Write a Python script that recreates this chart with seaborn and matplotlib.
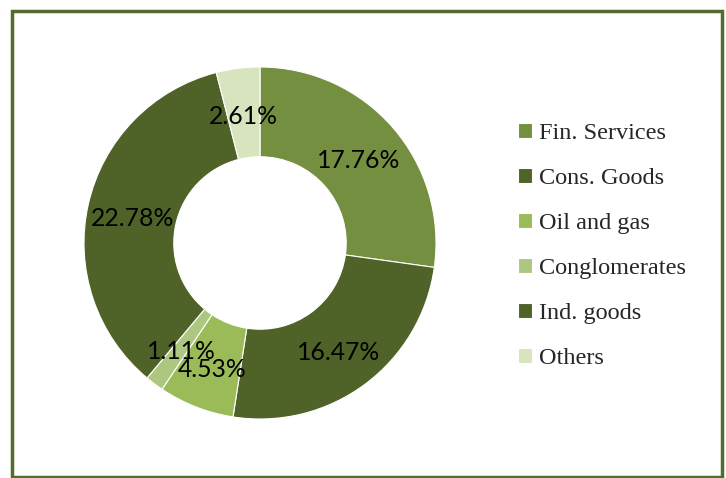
import matplotlib
matplotlib.use("Agg")
import matplotlib.pyplot as plt
import seaborn as sns

categories = ["Fin. Services", "Cons. Goods", "Oil and gas", "Conglomerates", "Ind. goods", "Others"]
values = [17.76, 16.47, 4.53, 1.11, 22.78, 2.61]
colors = ["#748F3F", "#4F6228", "#9BBB59", "#ADC780", "#4F6228", "#D7E4BD"]

sns.set_style("white")
palette = sns.color_palette(colors)

W, H = 726, 478
fig = plt.figure(figsize=(W / 100, H / 100), dpi=100)
fig.patch.set_facecolor("white")
ax = fig.add_axes([0, 0, 1, 1])

cx, cy = 260, 243
R = 176
total = sum(values)

wedges, texts, autotexts = ax.pie(
    values,
    colors=palette,
    startangle=90,
    counterclock=False,
    radius=R,
    center=(0, 0),
    wedgeprops=dict(width=R * 0.51, edgecolor="white", linewidth=0.8),
    autopct=lambda p: f"{p * total / 100:.2f}%",
    pctdistance=0.745,
    textprops=dict(family=["Lato", "DejaVu Sans"], fontsize=17.8, color="black"),
)
for t in autotexts:
    x, y = t.get_position()
    t.set_position((x, y - 4))

ax.set_xlim(-cx, W - cx)
ax.set_ylim(-(H - cy), cy)
ax.set_aspect("equal")
ax.axis("off")

leg = fig.legend(
    wedges, categories,
    loc="upper left",
    bbox_to_anchor=(496 / W, 1 - 101 / H),
    frameon=False,
    prop=dict(family=["Liberation Serif", "DejaVu Serif"], size=17.5),
    handlelength=0.58, handleheight=0.58, handletextpad=0.29,
    labelspacing=0.98,
)

# outer border frame
border = plt.Rectangle((11.5 / W, 1.5 / H), (722 - 11.5) / W, (467.5 - 1.5) / H,
                       transform=fig.transFigure, fill=False,
                       edgecolor="#536B2C", linewidth=2.5)
fig.patches.append(border)

fig.savefig("out.png", dpi=100)
